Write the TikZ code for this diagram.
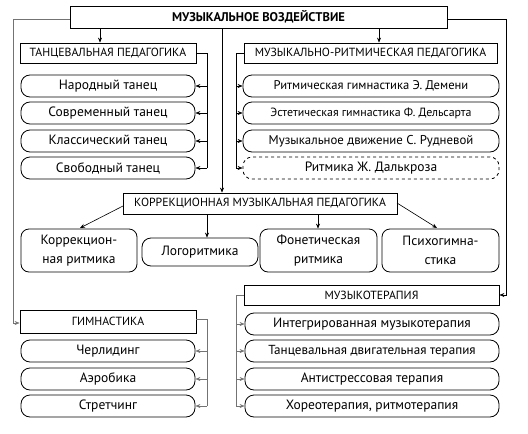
\documentclass[tikz,border=0pt]{standalone}
\usepackage{fontspec}
\setmainfont{PT Sans}
\usetikzlibrary{arrows.meta}
\begin{document}
\begin{tikzpicture}[x=1pt,y=-1pt,
  hbox/.style={draw, line width=0.8pt, inner sep=0pt, font=\fontsize{11.8}{12}\selectfont},
  item/.style={draw, line width=0.8pt, rounded corners=9pt, inner sep=0pt, minimum height=22pt, font=\fontsize{13.5}{14}\selectfont},
  citem/.style={draw, line width=0.8pt, rounded corners=8pt, inner sep=0pt, align=center, font=\fontsize{13.5}{19}\selectfont},
  con/.style={line width=0.6pt},
  gcon/.style={line width=0.6pt, draw=black!55},
  arr/.style={-{Stealth[length=5pt,width=4pt]}}
]
\useasboundingbox (0,0) rectangle (528,434);
% top
\node[hbox, font=\fontsize{12.6}{13}\selectfont\bfseries, minimum width=377pt, minimum height=22pt] (top) at (258.5,17) {МУЗЫКАЛЬНОЕ ВОЗДЕЙСТВИЕ};
% tango
\node[hbox, minimum width=176pt, minimum height=20pt] (tan) at (108,53) {ТАНЦЕВАЛЬНАЯ ПЕДАГОГИКА};
\node[item, minimum width=174pt] (t1) at (108,86) {Народный танец};
\node[item, minimum width=174pt] (t2) at (108,113) {Современный танец};
\node[item, minimum width=174pt] (t3) at (108,141) {Классический танец};
\node[item, minimum width=174pt] (t4) at (108,168) {Свободный танец};
% rhythm
\node[hbox, minimum width=253pt, minimum height=20pt] (mr) at (370.5,53) {МУЗЫКАЛЬНО-РИТМИЧЕСКАЯ ПЕДАГОГИКА};
\node[item, minimum width=256pt, font=\fontsize{12.6}{14}\selectfont] (r1) at (371,86) {Ритмическая гимнастика Э. Демени};
\node[item, minimum width=256pt, font=\fontsize{11.9}{14}\selectfont] (r2) at (371,113) {Эстетическая гимнастика Ф. Дельсарта};
\node[item, minimum width=256pt, font=\fontsize{12.8}{14}\selectfont] (r3) at (371,141) {Музыкальное движение С. Рудневой};
\node[item, minimum width=256pt, dashed] (r4) at (371,168) {Ритмика Ж. Далькроза};
% correction
\node[hbox, minimum width=274pt, minimum height=21pt] (kor) at (260,203.5) {КОРРЕКЦИОННАЯ МУЗЫКАЛЬНАЯ ПЕДАГОГИКА};
\node[citem, minimum width=116pt, minimum height=43pt] (k1) at (79,250.5) {Коррекцион-\\ная ритмика};
\node[citem, minimum width=116pt, minimum height=28pt, rounded corners=9pt] (k2) at (200,252) {Логоритмика};
\node[citem, minimum width=117pt, minimum height=43pt] (k3) at (318.5,250.5) {Фонетическая\\ритмика};
\node[citem, minimum width=117pt, minimum height=43pt] (k4) at (440.5,250.5) {Психогимна-\\стика};
% gymnastics
\node[hbox, minimum width=176pt, minimum height=23pt] (gym) at (108,321.5) {ГИМНАСТИКА};
\node[item, minimum width=174pt] (g1) at (108,351) {Черлидинг};
\node[item, minimum width=174pt] (g2) at (108,379) {Аэробика};
\node[item, minimum width=174pt] (g3) at (108,406) {Стретчинг};
% music therapy
\node[hbox, minimum width=255pt, minimum height=20pt] (mt) at (371.5,295) {МУЗЫКОТЕРАПИЯ};
\node[item, minimum width=254pt] (m1) at (372,324) {Интегрированная музыкотерапия};
\node[item, minimum width=254pt, font=\fontsize{13.1}{14}\selectfont] (m2) at (372,351) {Танцевальная двигательная терапия};
\node[item, minimum width=254pt] (m3) at (372,379) {Антистрессовая терапия};
\node[item, minimum width=254pt] (m4) at (372,406) {Хореотерапия, ритмотерапия};
% coordinates
\coordinate (lt) at (13,19);
\coordinate (rt) at (506,19);
\coordinate (tb) at (207,53);
\coordinate (rb) at (236,53);
\coordinate (gb) at (207,319);
\coordinate (mb) at (236,295);
% connectors from top
\draw[con,arr] (100,28) coordinate (ta) -- (ta |- tan.north);
\draw[con,arr] (379,28) coordinate (tb2) -- (tb2 |- mr.north);
\draw[con,arr] (222,28) coordinate (tc) -- (tc |- kor.north);
\draw[gcon,arr] (top.west |- lt) -- (lt) -- (lt |- 0,323) -- (gym.west |- 0,323);
\draw[con,arr] (top.east |- rt) -- (rt) -- (rt |- mt.east) -- (mt.east);
% tango bracket
\draw[con] (tan.east) -- (tb) -- (tb |- t4);
\foreach \n in {t1,t2,t3,t4} \draw[con,arr] (tb |- \n) -- (\n.east);
% rhythm bracket
\draw[con] (mr.west) -- (rb) -- (rb |- r4);
\foreach \n in {r1,r2,r3,r4} \draw[con,arr] (rb |- \n) -- (\n.west);
% gym bracket
\draw[gcon] (gym.east |- gb) -- (gb) -- (gb |- g3);
\foreach \n in {g1,g2,g3} \draw[gcon,arr] (gb |- \n) -- (\n.east);
% music therapy bracket
\draw[gcon] (mt.west) -- (mb) -- (mb |- m4);
\foreach \n in {m1,m2,m3,m4} \draw[gcon,arr] (mb |- \n) -- (\n.west);
% correction arrows
\draw[con,arr] (123,206) -- (80,228);
\draw[con,arr] (207,214) coordinate (ka) -- (ka |- k2.north);
\draw[con,arr] (318,214) coordinate (kb) -- (kb |- k3.north);
\draw[con,arr] (397,203) -- (437,228);
\end{tikzpicture}
\end{document}
